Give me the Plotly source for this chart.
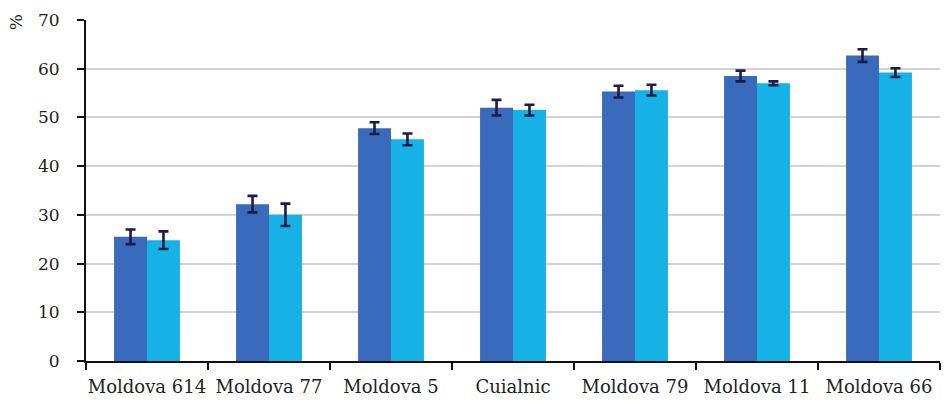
import plotly.graph_objects as go

categories = ["Moldova 614", "Moldova 77", "Moldova 5", "Cuialnic",
              "Moldova 79", "Moldova 11", "Moldova 66"]
series_a = [25.5, 32.2, 47.8, 52.0, 55.3, 58.5, 62.7]
errors_a = [1.5, 1.7, 1.2, 1.6, 1.2, 1.1, 1.3]
series_b = [24.8, 30.0, 45.5, 51.5, 55.6, 57.0, 59.2]
errors_b = [1.8, 2.3, 1.2, 1.1, 1.1, 0.4, 0.9]
y_ticks = [0, 10, 20, 30, 40, 50, 60, 70]

FONT = "'DejaVu Serif', 'Liberation Serif', serif"
err_style = dict(type="data", visible=True, color="#1c1c4a", thickness=2.6, width=5)

fig = go.Figure()
fig.add_trace(go.Bar(x=categories, y=series_a, marker_color="#3a6abc",
                     marker_line_width=0,
                     error_y=dict(array=errors_a, **err_style)))
fig.add_trace(go.Bar(x=categories, y=series_b, marker_color="#16b1e5",
                     marker_line_width=0,
                     error_y=dict(array=errors_b, **err_style)))

fig.update_layout(
    width=947, height=401,
    margin=dict(l=86, r=7, t=20, b=40),
    paper_bgcolor="white", plot_bgcolor="white",
    barmode="group", bargap=0.46, bargroupgap=0.0,
    showlegend=False,
    font=dict(family=FONT, size=17, color="#222222"),
)
fig.update_xaxes(
    type="category", tickson="boundaries", ticks="outside", ticklen=7,
    tickwidth=2, tickcolor="#111111", showline=True, linecolor="#111111",
    linewidth=2, showgrid=False, tickfont=dict(family=FONT, size=18),
    tickangle=0, ticklabelstandoff=8, automargin=False,
)
fig.update_yaxes(
    range=[0, 70], tickvals=y_ticks, ticks="outside", ticklen=7,
    tickwidth=2, tickcolor="#111111", showline=True, linecolor="#111111",
    linewidth=2, showgrid=True, gridcolor="#d4d4d4", gridwidth=1.5,
    zeroline=False, tickfont=dict(family=FONT, size=17),
    ticklabelstandoff=14, automargin=False,
)
fig.add_annotation(
    text="%", textangle=-90, showarrow=False,
    xref="paper", yref="paper", x=-0.082, y=0.993,
    xanchor="center", yanchor="middle",
    font=dict(family=FONT, size=17, color="#222222"),
)

fig.write_html("out.html")
